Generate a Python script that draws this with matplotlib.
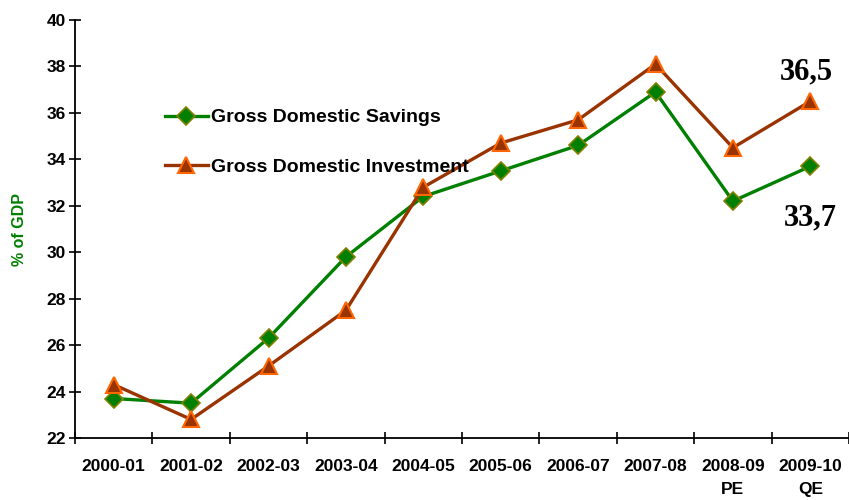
import matplotlib.pyplot as plt
import numpy as np

years = ['2000-01', '2001-02', '2002-03', '2003-04', '2004-05', '2005-06',
         '2006-07', '2007-08', '2008-09\nPE', '2009-10\nQE']
savings = [23.7, 23.5, 26.3, 29.8, 32.4, 33.5, 34.6, 36.9, 32.2, 33.7]
investment = [24.3, 22.8, 25.1, 27.5, 32.8, 34.7, 35.7, 38.1, 34.5, 36.5]

plt.rcParams['font.family'] = ['Liberation Sans', 'DejaVu Sans']

fig = plt.figure(figsize=(8.49, 5.0), dpi=100)
ax = fig.add_axes([75 / 849, 62 / 500, 774 / 849, 418 / 500])

index = np.arange(len(years))
ax.plot(index, savings, color='#008000', lw=2.4, marker='D', ms=9,
        mfc='#008000', mec='#808000', mew=1.2, label='Gross Domestic Savings')
ax.plot(index, investment, color='#993300', lw=2.4, marker='^', ms=11,
        mfc='#993300', mec='#FF6600', mew=1.5, label='Gross Domestic Investment')

ax.set_xlim(-0.5, 9.5)
ax.set_ylim(22, 40)
ax.set_yticks(np.arange(22, 41, 2))
ax.set_xticks(index)
ax.set_xticklabels(years, fontsize=12.5, fontweight='bold', linespacing=1.65)
ax.set_xticks(np.arange(-0.5, 10, 1), minor=True)
ax.tick_params(axis='x', which='major', length=0, pad=15)
ax.tick_params(axis='x', which='minor', direction='inout', length=9, width=1.2)
ax.tick_params(axis='y', direction='inout', length=9, width=1.2, pad=2,
               labelsize=12.5)
for lab in ax.get_yticklabels():
    lab.set_fontweight('bold')

ax.spines['top'].set_visible(False)
ax.spines['right'].set_visible(False)
ax.spines['left'].set_linewidth(1.3)
ax.spines['bottom'].set_linewidth(1.3)

ax.set_ylabel('% of GDP', color='#008000', fontsize=11.5, fontweight='bold',
              labelpad=14)

# end-point values
ax.annotate(f'{investment[-1]:.1f}'.replace('.', ','), (index[-1], investment[-1]),
            xytext=(-3, 21), textcoords='offset points', ha='center', va='center',
            family='Liberation Serif', fontsize=22, fontweight='bold')
ax.annotate(f'{savings[-1]:.1f}'.replace('.', ','), (index[-1], savings[-1]),
            xytext=(0, -37), textcoords='offset points', ha='center', va='center',
            family='Liberation Serif', fontsize=22, fontweight='bold')

leg = ax.legend(loc='upper left', bbox_to_anchor=(155 / 849, 1 - 99 / 500),
                bbox_transform=fig.transFigure, frameon=False, fontsize=14,
                handlelength=2.2, handletextpad=0.2, labelspacing=1.65,
                borderpad=0)
for t in leg.get_texts():
    t.set_fontweight('bold')

plt.savefig('out.png', dpi=100)
